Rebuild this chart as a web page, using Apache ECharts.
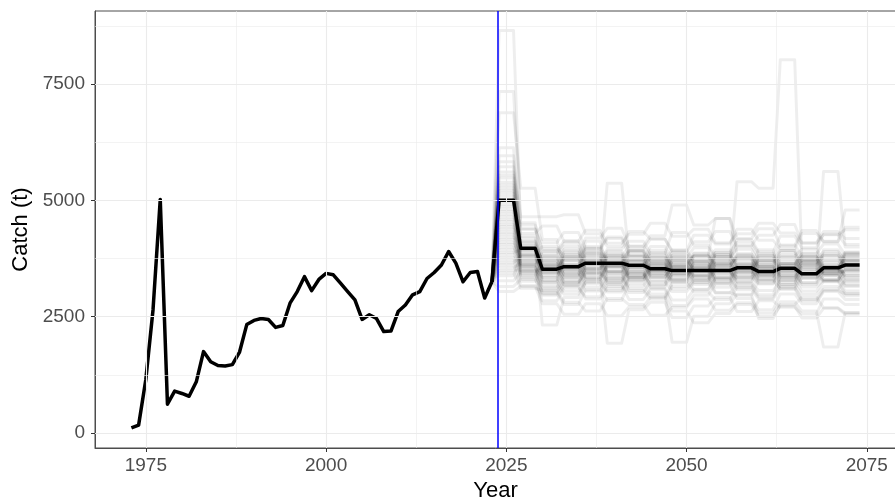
<!DOCTYPE html>
<html>
<head>
<meta charset="utf-8">
<script src="https://cdn.jsdelivr.net/npm/echarts@6/dist/echarts.min.js"></script>
<style>
  html, body { margin: 0; padding: 0; background: #ffffff; }
  #chart { width: 895px; height: 499px; }
</style>
</head>
<body>
<div id="chart"></div>
<script>
// Historic catch (t), one value per year from histStartYear
const histStartYear = 1973;
const histCatch = [
  110, 170, 1150, 2650, 5020, 620, 900, 850, 790, 1100,
  1750, 1530, 1450, 1440, 1470, 1740, 2330, 2420, 2460, 2440,
  2270, 2310, 2790, 3040, 3360, 3060, 3300, 3430, 3400, 3220,
  3040, 2860, 2440, 2540, 2460, 2180, 2190, 2610, 2750, 2970,
  3040, 3320, 3450, 3610, 3900, 3650, 3250, 3450, 3470, 2900,
  3250
];

// Projection: catch is held for three-year blocks starting in projStartYear
const projStartYear = 2024;
const blockLength = 3;
const medianBlocks = [5000, 3970, 3520, 3575, 3650, 3650, 3605, 3530, 3490, 3490, 3490, 3550, 3470, 3540, 3420, 3550, 3610];

// Individual simulated projections (block values)
const simBlocks = [
  [8650,4380,3920,3610,3830,3480,3350,3720,3560,3410,3880,3520,3300,3640,3790,3420,3510],
  [7340,4520,3440,3780,3290,3620,3910,3380,3240,3690,3470,3330,3810,3380,3230,3940,3700],
  [6880,5260,4160,3520,3710,3310,3580,3930,3510,3290,3640,3770,3440,3690,3320,3490,3880],
  [6130,4110,3290,3910,3480,3810,3420,3180,3720,3530,3260,3590,3940,3300,3610,3380,3170],
  [5960,4020,3710,3390,4120,3580,3270,3490,3820,3630,3210,3440,3710,3920,3380,3270,3620],
  [5830,3820,3530,3180,3560,5370,3790,3430,3280,3810,3620,3310,3530,3190,3730,3580,3390],
  [5720,3950,2320,2910,3240,3470,3060,2880,3150,3390,3020,2960,3270,3100,2840,3060,2990],
  [5610,4650,4650,4690,4280,4010,4330,4170,3920,4250,4060,4380,4140,3960,4290,4110,4420],
  [5540,3640,3380,3620,3900,3740,3510,3650,3380,3560,3800,3650,3430,3570,3700,3820,3580],
  [5480,4230,3620,3240,3420,1930,2650,2810,2480,2730,2920,2610,2840,2700,2560,2880,2760],
  [5390,3720,3860,4080,3690,3950,4120,3860,4310,4040,3790,4160,3890,4230,3980,4270,4050],
  [5330,3580,3130,3460,3210,3030,3340,3590,3100,3280,3520,3180,2970,3360,3140,3290,3050],
  [5270,4390,3960,3830,4190,4400,4010,4240,4900,4470,4610,4180,4390,4020,4350,4120,4790],
  [5210,3490,3570,3340,3620,3250,3470,3130,3420,3650,3310,3490,3270,3520,3410,3660,3340],
  [5150,3910,3240,3760,3970,3600,3880,3700,3330,3520,3780,3950,3660,3800,3950,3700,3890],
  [5090,3330,2840,3120,2930,3190,2870,3080,2740,2960,3210,2890,2650,2990,2780,3040,2870],
  [5020,4080,3690,3950,3530,3830,3560,3780,3640,3380,3590,3840,3570,3420,3660,3850,3620],
  [4980,3790,3450,3570,3820,3420,3690,3350,3560,3870,3650,3460,3720,3490,3780,3440,3780],
  [4920,4470,4090,4310,3970,4210,3950,4170,3890,4110,4330,4020,4250,4480,4090,4330,4180],
  [4870,3610,3010,2760,3080,2850,3220,2990,1950,2510,2780,2980,2460,2760,2920,2690,2580],
  [4810,3870,3780,3520,3350,3580,3340,3550,3780,3470,3700,3390,3610,3340,3560,3420,3490],
  [4760,4190,3580,3830,3660,3870,3600,3410,3670,3800,3530,3740,3450,3610,3870,3580,3730],
  [4700,3540,3340,3180,3400,3650,3420,3260,3510,3300,3460,3240,3520,3270,3480,3250,3420],
  [4650,4290,4450,4120,4360,4080,4270,4510,4230,4380,4090,4280,4510,4300,4080,4260,4370],
  [4590,3680,3550,3710,3440,3280,3560,3820,3490,3230,3500,3760,3360,3650,3420,3550,3260],
  [4540,3960,3650,3410,3630,3910,3690,3470,3700,3540,3830,3580,3820,3550,3190,3500,3680],
  [4480,3440,2990,3290,3050,3320,3100,2930,3220,3030,2870,3140,2920,3190,2980,3150,2950],
  [4430,4130,3810,4010,3760,3550,3800,3640,3880,3700,3940,3700,3580,3820,3610,3780,3550],
  [4380,3750,3490,3250,3520,3760,3290,3540,3310,3590,3350,3560,3710,3460,3330,3490,3840],
  [4320,3560,3240,3540,3780,3460,3730,4010,3750,3490,3720,4020,3760,3500,3730,3900,3710],
  [4270,3390,3700,3460,3130,3380,3160,3410,3590,3360,3130,3370,3200,3440,3230,3380,3150],
  [4210,4040,3520,3790,4010,3720,3910,3680,3460,3720,3490,3260,3480,3740,3520,3300,3500],
  [4160,3620,3420,3600,3350,3590,3810,3570,3300,3090,3330,3550,3310,3090,3340,3560,3310],
  [4100,3820,4010,3720,3940,4180,3820,3490,3760,3980,3750,3520,3790,4040,3800,3610,3860],
  [4050,3480,3180,2980,3250,3060,3290,3480,3260,3470,3240,3470,3220,3480,3670,3430,3210],
  [3990,3710,3610,3880,3640,3350,3560,3760,3530,3810,3560,3340,3590,3380,3610,3820,3600],
  [3940,3360,3800,3570,3310,3560,3720,3350,3580,3330,3570,3800,3540,3770,3530,3290,3520],
  [3880,3930,3270,3050,3310,3150,3020,3260,3040,3240,3010,3220,3060,3280,3050,3260,3000],
  [3830,3590,3900,4130,3880,3680,3920,3700,3940,3690,3880,4100,3860,3640,3850,4060,3830],
  [3770,3420,3110,3370,3580,3810,3530,3330,3620,3850,3600,3810,3570,3340,3560,3400,3650],
  [3720,3260,3590,3330,3510,3240,3470,3630,3390,3570,3340,3120,3370,3640,3400,3610,3380],
  [3660,3800,3460,3690,3440,3680,3370,3590,3820,3590,3830,3610,3380,3600,3800,3540,3760],
  [3610,3170,2960,3160,2880,3110,3350,3110,2860,3080,3310,3080,2880,3130,2870,3090,3280],
  [3550,3650,3750,3500,3720,3480,3700,3480,3690,3460,3680,3450,3680,3920,3690,3470,3470],
  [3490,3510,3350,3620,3860,3630,3400,3630,3410,3650,3420,3630,3410,3230,3470,3720,3560],
  [3440,3110,3060,2810,2620,2890,2760,2530,2700,2880,2640,2800,2580,2820,2620,1850,2590],
  [3380,3840,3640,3420,3700,3440,3650,3880,3610,3380,3640,5400,5260,8020,3700,3520,3810],
  [3270,3470,3510,3760,3530,3770,4020,3780,3570,3800,4610,3850,3620,3880,3640,3470,3710],
  [3150,3300,3050,3230,3460,3210,3450,3190,3430,3190,3400,3630,3390,3150,3410,5620,4000],
  [3040,3150,2780,2550,2780,2520,2710,2920,2620,2370,2570,2760,2510,2730,2470,2680,2550]
];

// Axis breaks and the assessment year marker
const xTicks = [1975, 2000, 2025, 2050, 2075];
const xMinorTicks = [1987.5, 2012.5, 2037.5, 2062.5];
const yTicks = [0, 2500, 5000, 7500];
const yMinorTicks = [1250, 3750, 6250, 8750];
const refYear = 2023.75;

const lastHistYear = histStartYear + histCatch.length - 1;
const lastHistCatch = histCatch[histCatch.length - 1];

const histPoints = histCatch.map((v, i) => [histStartYear + i, v]);

function blocksToPoints(blocks) {
  const pts = [];
  blocks.forEach((v, b) => {
    for (let k = 0; k < blockLength; k++) {
      pts.push([projStartYear + b * blockLength + k, v]);
    }
  });
  return pts;
}

const medianPoints = [[lastHistYear, lastHistCatch]].concat(blocksToPoints(medianBlocks));

const gridColor = '#ebebeb';
const gridLines = []
  .concat(xTicks.map(v => ({ xAxis: v, lineStyle: { color: gridColor, width: 1.1, type: 'solid' } })))
  .concat(xMinorTicks.map(v => ({ xAxis: v, lineStyle: { color: gridColor, width: 0.6, type: 'solid' } })))
  .concat(yTicks.map(v => ({ yAxis: v, lineStyle: { color: gridColor, width: 1.1, type: 'solid' } })))
  .concat(yMinorTicks.map(v => ({ yAxis: v, lineStyle: { color: gridColor, width: 0.6, type: 'solid' } })));

const series = [];

// background grid
series.push({
  type: 'line',
  data: [[2000, -1000]],
  symbol: 'none',
  lineStyle: { opacity: 0 },
  silent: true,
  z: 1,
  markLine: {
    silent: true,
    symbol: ['none', 'none'],
    label: { show: false },
    animation: false,
    data: gridLines
  }
});

// simulated trajectories
simBlocks.forEach(blocks => {
  series.push({
    type: 'line',
    data: [[lastHistYear, lastHistCatch]].concat(blocksToPoints(blocks)),
    symbol: 'none',
    silent: true,
    z: 2,
    lineStyle: { color: 'rgba(0,0,0,0.065)', width: 3, join: 'round' }
  });
});

// historic catch and projected median
series.push({
  type: 'line',
  data: histPoints,
  symbol: 'none',
  z: 3,
  lineStyle: { color: '#000000', width: 3.5, join: 'round' }
});
series.push({
  type: 'line',
  data: medianPoints,
  symbol: 'none',
  z: 3,
  lineStyle: { color: '#000000', width: 3.5, join: 'round' },
  markLine: {
    silent: true,
    symbol: ['none', 'none'],
    label: { show: false },
    animation: false,
    data: [{ xAxis: refYear, lineStyle: { color: '#0000ff', width: 1.5, type: 'solid' } }]
  }
});

const plain = v => String(v);

const chart = echarts.init(document.getElementById('chart'), null, { renderer: 'canvas' });
chart.setOption({
  animation: false,
  backgroundColor: '#ffffff',
  grid: {
    left: 95, top: 11, width: 801, height: 437,
    outerBoundsMode: 'none',
    containLabel: false,
    show: true, borderColor: '#4d4d4d', borderWidth: 1, backgroundColor: 'transparent'
  },
  xAxis: {
    type: 'value',
    min: 1967.95,
    max: 2079.05,
    name: 'Year',
    nameLocation: 'middle',
    nameGap: 30,
    nameTextStyle: { fontFamily: 'Liberation Sans', fontSize: 22, color: '#000000' },
    axisLine: { show: true, onZero: false, lineStyle: { color: '#4d4d4d', width: 1 } },
    axisTick: { show: true, customValues: xTicks, length: 4, lineStyle: { color: '#333333' } },
    axisLabel: { customValues: xTicks, formatter: plain, fontFamily: 'Liberation Sans', fontSize: 19, color: '#4d4d4d', margin: 8 },
    splitLine: { show: false }
  },
  yAxis: {
    type: 'value',
    min: -322,
    max: 9069,
    name: 'Catch (t)',
    nameLocation: 'middle',
    nameGap: 62,
    nameRotate: 90,
    nameTextStyle: { fontFamily: 'Liberation Sans', fontSize: 22, color: '#000000' },
    axisLine: { show: true, lineStyle: { color: '#4d4d4d', width: 1 } },
    axisTick: { show: true, customValues: yTicks, length: 4, lineStyle: { color: '#333333' } },
    axisLabel: { customValues: yTicks, formatter: plain, fontFamily: 'Liberation Sans', fontSize: 19, color: '#4d4d4d', margin: 10 },
    splitLine: { show: false }
  },
  series: series
});
</script>
</body>
</html>
